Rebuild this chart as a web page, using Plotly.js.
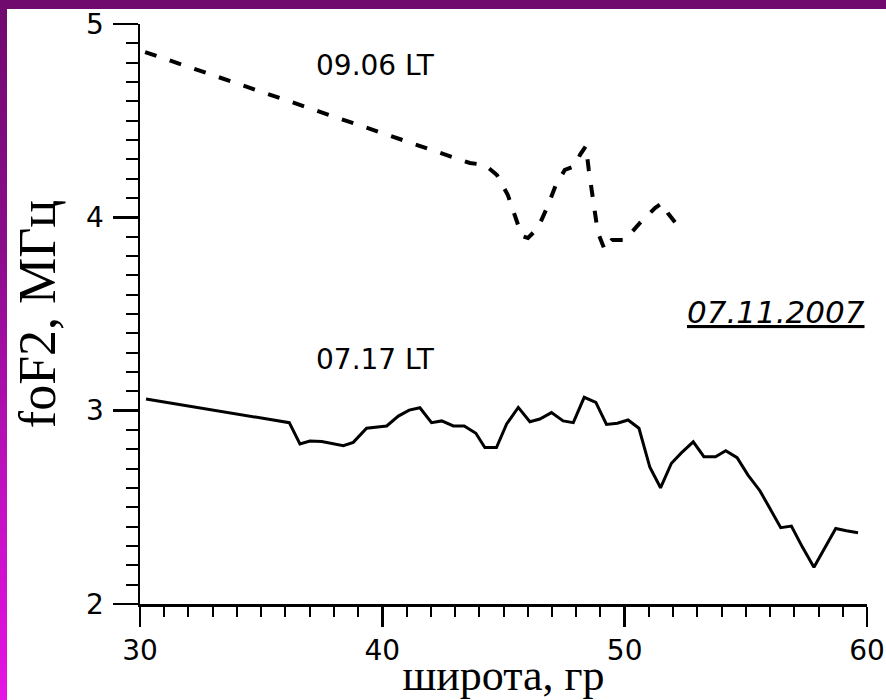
<!DOCTYPE html>
<html>
<head>
<meta charset="utf-8">
<script src="https://cdn.plot.ly/plotly-3.0.1.min.js"></script>
<style>
  html, body { margin: 0; padding: 0; width: 886px; height: 700px; overflow: hidden; }
  body { background: linear-gradient(to bottom, #700a6e 0%, #8a0c8a 35%, #c010c0 70%, #e614e4 100%); position: relative; }
  #panel { position: absolute; left: 7px; top: 9px; right: 0; bottom: 0; background: #ffffff; }
  #chart { position: absolute; left: 0; top: 0; width: 886px; height: 700px; }
</style>
</head>
<body>
<div id="panel"></div>
<div id="chart"></div>
<script>
// 09.06 LT (dashed)
const lat0906 = [30.21, 43.61, 44.23, 44.73, 45.18, 45.51, 45.76, 46.01, 46.42, 46.79, 47.16, 47.53, 47.95, 48.15, 48.40, 48.52, 48.69, 48.89, 49.18, 49.47, 50.01, 50.63, 51.25, 51.54, 51.78, 52.20];
const fof2_0906 = [4.855, 4.281, 4.271, 4.219, 4.115, 3.986, 3.903, 3.893, 3.945, 4.048, 4.167, 4.245, 4.265, 4.322, 4.369, 4.245, 4.090, 3.924, 3.831, 3.883, 3.883, 3.971, 4.048, 4.074, 4.022, 3.955];

// 07.17 LT (solid)
const lat0717 = [30.25, 36.16, 36.60, 37.01, 37.50, 38.39, 38.80, 39.35, 39.90, 40.18, 40.66, 41.11, 41.55, 42.03, 42.45, 42.93, 43.38, 43.86, 44.23, 44.71, 45.13, 45.61, 46.09, 46.50, 46.98, 47.46, 47.88, 48.33, 48.81, 49.25, 49.70, 50.14, 50.59, 51.04, 51.48, 51.93, 52.35, 52.83, 53.27, 53.75, 54.17, 54.64, 55.09, 55.58, 55.99, 56.44, 56.88, 57.34, 57.81, 58.26, 58.71, 59.15, 59.63];
const fof2_0717 = [3.060, 2.938, 2.828, 2.843, 2.840, 2.819, 2.836, 2.909, 2.917, 2.921, 2.972, 3.003, 3.015, 2.938, 2.947, 2.921, 2.921, 2.883, 2.809, 2.809, 2.931, 3.017, 2.943, 2.957, 2.990, 2.947, 2.938, 3.069, 3.043, 2.929, 2.935, 2.952, 2.909, 2.707, 2.601, 2.728, 2.783, 2.839, 2.762, 2.762, 2.793, 2.757, 2.667, 2.586, 2.495, 2.395, 2.403, 2.293, 2.190, 2.288, 2.391, 2.379, 2.369];

const xTicks = [30, 40, 50, 60];
const yTicks = [2, 3, 4, 5];

const labels = {
  series1: '09.06 LT',
  series2: '07.17 LT',
  date: '07.11.2007',
  xTitle: 'широта, гр',
  yTitle: 'foF2, МГц'
};

const traces = [
  {
    x: lat0906, y: fof2_0906, type: 'scatter', mode: 'lines', name: labels.series1,
    line: { color: '#000000', width: 4, dash: '12px,14px' }, hoverinfo: 'x+y'
  },
  {
    x: lat0717, y: fof2_0717, type: 'scatter', mode: 'lines', name: labels.series2,
    line: { color: '#000000', width: 3 }, hoverinfo: 'x+y'
  }
];

const layout = {
  width: 886, height: 700,
  margin: { l: 140, r: 19, t: 24, b: 96, pad: 0 },
  paper_bgcolor: 'rgba(0,0,0,0)',
  plot_bgcolor: 'rgba(0,0,0,0)',
  showlegend: false,
  xaxis: {
    range: [30, 60], tickmode: 'array', tickvals: xTicks, ticktext: xTicks.map(String),
    showgrid: false, zeroline: false, showline: true, linecolor: '#000', linewidth: 2.5,
    ticks: 'outside', ticklen: 20, tickwidth: 2.5, tickcolor: '#000',
    ticklabelstandoff: 0,
    minor: { dtick: 1, tick0: 30, ticks: 'outside', ticklen: 10, tickwidth: 2, tickcolor: '#000', showgrid: false },
    tickfont: { family: 'DejaVu Sans, sans-serif', size: 28, color: '#000' },
    title: { text: labels.xTitle, font: { family: 'Liberation Serif, Times New Roman, serif', size: 44, color: '#000' }, standoff: 6 }
  },
  yaxis: {
    range: [2, 5], tickmode: 'array', tickvals: yTicks, ticktext: yTicks.map(String),
    showgrid: false, zeroline: false, showline: true, linecolor: '#000', linewidth: 2.5,
    ticks: 'outside', ticklen: 25, tickwidth: 2.5, tickcolor: '#000',
    ticklabelstandoff: 3,
    minor: { dtick: 0.1, tick0: 2, ticks: 'outside', ticklen: 12, tickwidth: 2, tickcolor: '#000', showgrid: false },
    tickfont: { family: 'DejaVu Sans, sans-serif', size: 28, color: '#000' },
    title: { text: labels.yTitle, font: { family: 'Liberation Serif, Times New Roman, serif', size: 52, color: '#000' }, standoff: 14 }
  },
  annotations: [
    { x: 37.18, y: 4.785, xref: 'x', yref: 'y', text: labels.series1, showarrow: false, xanchor: 'left', yanchor: 'middle',
      font: { family: 'DejaVu Sans, sans-serif', size: 28, color: '#000' } },
    { x: 37.18, y: 3.267, xref: 'x', yref: 'y', text: labels.series2, showarrow: false, xanchor: 'left', yanchor: 'middle',
      font: { family: 'DejaVu Sans, sans-serif', size: 28, color: '#000' } },
    { x: 59.99, y: 3.51, xref: 'x', yref: 'y', text: '<i><u>' + labels.date + '</u></i>', showarrow: false, xanchor: 'right', yanchor: 'middle',
      font: { family: 'DejaVu Sans, sans-serif', size: 31, color: '#000' } }
  ]
};

Plotly.newPlot('chart', traces, layout, { displayModeBar: false, staticPlot: true });
</script>
</body>
</html>
